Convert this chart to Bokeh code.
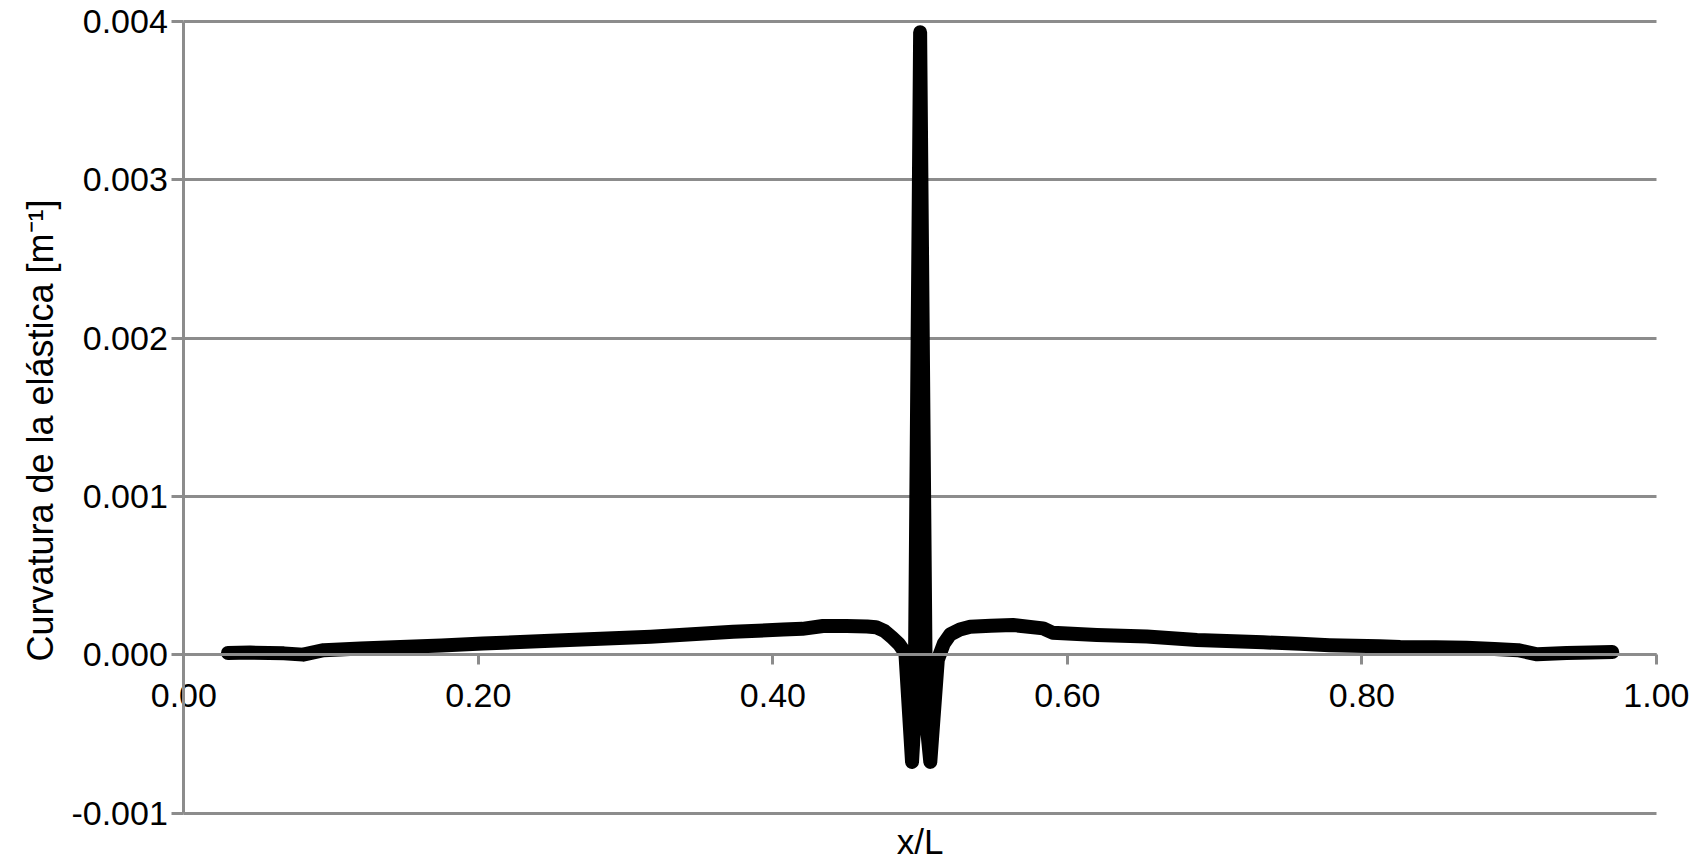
from bokeh.plotting import figure
from bokeh.models import Range1d, FixedTicker, PrintfTickFormatter, LinearAxis, Label
from bokeh.embed import file_html
from bokeh.resources import INLINE

# ---- data ----
x_over_L = [0.030, 0.045, 0.068, 0.081, 0.095, 0.120, 0.147, 0.175, 0.203, 0.249,
            0.283, 0.317, 0.345, 0.373, 0.407, 0.420, 0.434, 0.450, 0.464, 0.470,
            0.476, 0.481, 0.4855, 0.4900, 0.4945, 0.4962, 0.5000, 0.5040, 0.5069,
            0.5120, 0.5160, 0.5205, 0.527, 0.534, 0.548, 0.563, 0.5835, 0.590,
            0.620, 0.654, 0.688, 0.733, 0.758, 0.778, 0.812, 0.826, 0.850, 0.871,
            0.890, 0.906, 0.919, 0.939, 0.955, 0.970]
curvature = [0.000013, 0.000015, 0.000010, 0.000002, 0.000030, 0.000040, 0.000050,
             0.000060, 0.000072, 0.000090, 0.000102, 0.000115, 0.000130, 0.000147,
             0.000160, 0.000165, 0.000183, 0.000182, 0.000180, 0.000175, 0.000150,
             0.000110, 0.000070, 0.000010, -0.000675, -0.000400, 0.003930,
             -0.000400, -0.000675, -0.000030, 0.000070, 0.000130, 0.000160,
             0.000178, 0.000185, 0.000189, 0.000168, 0.000140, 0.000126, 0.000116,
             0.000095, 0.000080, 0.000070, 0.000062, 0.000055, 0.000050, 0.000048,
             0.000045, 0.000038, 0.000030, 0.000004, 0.000012, 0.000015, 0.000018]
x_ticks = [0.0, 0.2, 0.4, 0.6, 0.8, 1.0]
y_ticks = [-0.001, 0.0, 0.001, 0.002, 0.003, 0.004]
x_title = "x/L"
y_title = "Curvatura de la elástica [m\u207b\u00b9]"

GRAY = "#8c8c8c"
FONT = "Liberation Sans"

# the frame is larger than the data box so that the axes drawn at x=0 / y=0
# (which are clipped to the frame) keep all their tick labels visible
X_LO, X_HI = -0.0851, 1.0272
Y_LO, Y_HI = -0.0012973, 0.0041306

p = figure(width=1696, height=860, output_backend="svg", toolbar_location=None,
           x_range=Range1d(X_LO, X_HI), y_range=Range1d(Y_LO, Y_HI),
           min_border_left=58, min_border_right=0, min_border_top=0,
           min_border_bottom=0)
p.outline_line_color = None
p.background_fill_color = "white"
p.border_fill_color = "white"

# horizontal gridlines only between x = 0 and x = 1
p.xgrid.visible = False
gy = p.ygrid[0]
gy.ticker = FixedTicker(ticks=y_ticks)
gy.grid_line_color = GRAY
gy.grid_line_width = 3
gy.cross_bounds = (x_ticks[0], x_ticks[-1])

# left side axis carries only the y title
ya = p.yaxis[0]
ya.ticker = FixedTicker(ticks=[])
ya.axis_line_color = None
ya.major_tick_line_color = None
ya.minor_tick_line_color = None
ya.major_tick_out = 0
ya.major_label_text_font_size = "0px"
ya.axis_label = y_title
ya.axis_label_text_font = FONT
ya.axis_label_text_font_size = "36px"
ya.axis_label_text_font_style = "normal"
ya.axis_label_text_color = "black"
ya.axis_label_standoff = -2

p.xaxis[0].visible = False

# y axis at x = 0
ay0 = LinearAxis(fixed_location=x_ticks[0], ticker=FixedTicker(ticks=y_ticks),
                 formatter=PrintfTickFormatter(format="%.3f"),
                 bounds=(y_ticks[0], y_ticks[-1]))
ay0.axis_line_color = GRAY
ay0.axis_line_width = 3
ay0.major_tick_line_color = GRAY
ay0.major_tick_line_width = 3
ay0.major_tick_out = 12
ay0.major_tick_in = 0
ay0.minor_tick_line_color = None
ay0.major_label_standoff = 4
ay0.major_label_text_font = FONT
ay0.major_label_text_font_size = "34px"
ay0.major_label_text_color = "black"
p.add_layout(ay0, "left")

# x axis at y = 0
ax0 = LinearAxis(fixed_location=0, ticker=FixedTicker(ticks=x_ticks),
                 formatter=PrintfTickFormatter(format="%.2f"),
                 bounds=(x_ticks[0], x_ticks[-1]))
ax0.axis_line_color = GRAY
ax0.axis_line_width = 3
ax0.major_tick_line_color = GRAY
ax0.major_tick_line_width = 3
ax0.major_tick_out = 10
ax0.major_tick_in = 0
ax0.minor_tick_line_color = None
ax0.major_label_standoff = 19
ax0.major_label_text_font = FONT
ax0.major_label_text_font_size = "34px"
ax0.major_label_text_color = "black"
p.add_layout(ax0, "below")

# x title centred under the data box (positive y_offset moves up)
p.add_layout(Label(x=(x_ticks[0] + x_ticks[-1]) / 2, y=Y_LO, x_units="data",
                   y_units="data", y_offset=19, text=x_title, text_align="center",
                   text_baseline="alphabetic", text_font=FONT,
                   text_font_size="35px", text_color="black"))

p.line(x_over_L, curvature, line_width=14, line_color="black",
       line_join="round", line_cap="round")

open("out.html", "w").write(file_html(p, INLINE))
